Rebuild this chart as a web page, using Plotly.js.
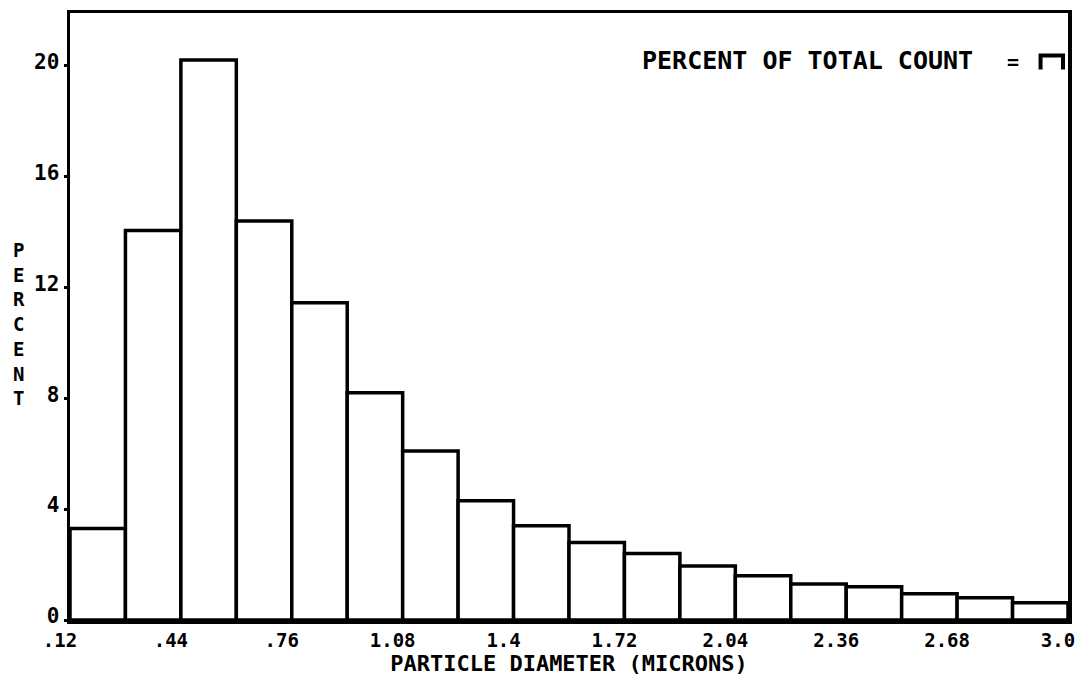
<!DOCTYPE html>
<html>
<head>
<meta charset="utf-8">
<script src="https://cdn.plot.ly/plotly-3.0.1.min.js"></script>
<style>html,body{margin:0;padding:0;background:#fff;}#chart{width:1082px;height:680px;}</style>
</head>
<body>
<div id="chart"></div>
<script>
// Bin left edges (microns) and bin width
const binLeft = [0.12, 0.28, 0.44, 0.60, 0.76, 0.92, 1.08, 1.24, 1.40, 1.56, 1.72, 1.88, 2.04, 2.20, 2.36, 2.52, 2.68, 2.84];
const binWidth = 0.16;
// Percent of total count per bin
const percent = [3.3, 14.05, 20.2, 14.4, 11.45, 8.2, 6.1, 4.3, 3.4, 2.8, 2.4, 1.95, 1.6, 1.3, 1.2, 0.95, 0.8, 0.62];
// Tick values / labels
const xTickVals = [0.12, 0.44, 0.76, 1.08, 1.40, 1.72, 2.04, 2.36, 2.68, 3.0];
const xTickText = [".12", ".44", ".76", "1.08", "1.4", "1.72", "2.04", "2.36", "2.68", "3.0"];
const yTickVals = [0, 4, 8, 12, 16, 20];
const yTickText = ["0", "4", "8", "12", "16", "20"];

const FONT = "DejaVu Sans Mono, Liberation Mono, monospace";
const centers = binLeft.map(v => v + binWidth / 2);

const trace = {
  type: "bar",
  x: centers,
  y: percent,
  width: binLeft.map(() => binWidth),
  marker: { color: "#ffffff", line: { color: "#000000", width: 3.5 } },
  hoverinfo: "x+y",
  showlegend: false
};

const layout = {
  width: 1082, height: 680,
  margin: { l: 70, r: 14, t: 13, b: 60 },
  paper_bgcolor: "#ffffff", plot_bgcolor: "#ffffff",
  bargap: 0,
  font: { family: FONT, color: "#000", size: 20, weight: "bold" },
  xaxis: {
    range: [0.12, 3.0],
    tickmode: "array", tickvals: xTickVals, ticktext: xTickText,
    ticks: "", showgrid: false, zeroline: false,
    showline: true, linecolor: "#000", linewidth: 3.5, mirror: true,
    ticklabelshift: -10, ticklabelstandoff: 1, ticklabeloverflow: "allow",
    tickfont: { family: FONT, size: 19, weight: "bold", color: "#000" },
    title: { text: "PARTICLE DIAMETER (MICRONS)", standoff: 0,
             font: { family: FONT, size: 22, weight: "bold", color: "#000" } }
  },
  yaxis: {
    range: [0, 21.9],
    tickmode: "array", tickvals: yTickVals, ticktext: yTickText,
    ticks: "outside", ticklen: 3, tickwidth: 3, tickcolor: "#000",
    ticklabelshift: -4,
    showgrid: false, zeroline: false,
    showline: true, linecolor: "#000", linewidth: 3.5, mirror: true,
    tickfont: { family: FONT, size: 21, weight: "bold", color: "#000" }
  },
  annotations: [
    {
      xref: "paper", yref: "paper", x: -0.051, y: 0.487, xanchor: "center", yanchor: "middle",
      text: "P<br>E<br>R<br>C<br>E<br>N<br>T", showarrow: false, align: "center",
      font: { family: FONT, size: 19, weight: "bold", color: "#000" }
    },
    {
      xref: "paper", yref: "paper", x: 0.907, y: 0.922, xanchor: "right", yanchor: "middle",
      text: "PERCENT OF TOTAL COUNT", showarrow: false,
      font: { family: FONT, size: 25, weight: "bold", color: "#000" }
    },
    {
      xref: "paper", yref: "paper", x: 0.945, y: 0.92, xanchor: "center", yanchor: "middle",
      text: "=", showarrow: false,
      font: { family: FONT, size: 20, weight: "bold", color: "#000" }
    }
  ],
  shapes: [
    {
      type: "path", xref: "paper", yref: "paper",
      path: "M 0.9725 0.907 L 0.9725 0.93 L 0.995 0.93 L 0.995 0.907",
      line: { color: "#000", width: 4 }
    }
  ]
};

Plotly.newPlot("chart", [trace], layout, { displayModeBar: false, staticPlot: true });
</script>
</body>
</html>
